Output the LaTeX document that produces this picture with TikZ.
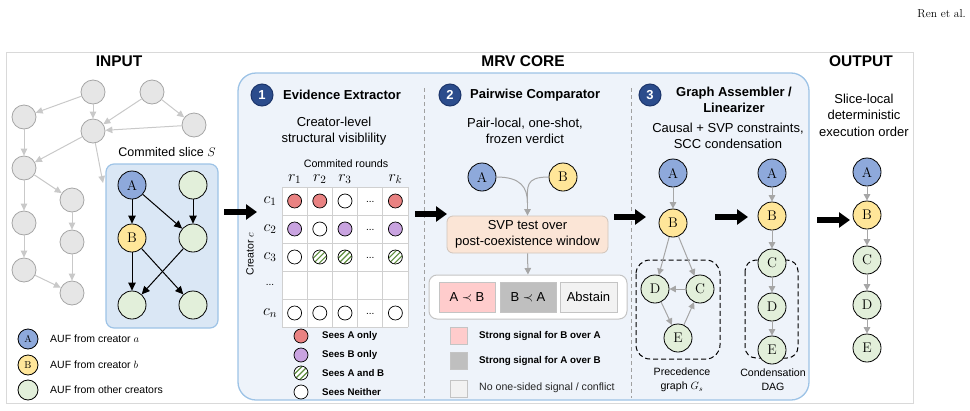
\RequirePackage{fix-cm}
\documentclass[tikz,border=0pt]{standalone}
\usepackage{fontspec}
\setsansfont{Liberation Sans}
\usetikzlibrary{arrows.meta}
\definecolor{mrvfill}{HTML}{EEF3FA}
\definecolor{mrvdraw}{HTML}{9DC3E6}
\definecolor{slicefill}{HTML}{DAE7F5}
\definecolor{nodeA}{HTML}{8EA9DB}
\definecolor{nodeB}{HTML}{FFE699}
\definecolor{nodeG}{HTML}{E2EFDA}
\definecolor{grayN}{HTML}{E6E6E6}
\definecolor{grayNd}{HTML}{A6A6A6}
\definecolor{grayE}{HTML}{C9C9C9}
\definecolor{arrG}{HTML}{A6A6A6}
\definecolor{dotred}{HTML}{E98282}
\definecolor{dotpur}{HTML}{C9A3E0}
\definecolor{hatchg}{HTML}{5E8E3E}
\definecolor{peach}{HTML}{FBE5D6}
\definecolor{peachd}{HTML}{D0C4BA}
\definecolor{pinkb}{HTML}{FFCCCC}
\definecolor{grayb}{HTML}{BFBFBF}
\definecolor{lightb}{HTML}{F2F2F2}
\definecolor{boxd}{HTML}{C4C4C4}
\definecolor{badgeb}{HTML}{2B4C8C}
\definecolor{badged}{HTML}{1C356B}
\definecolor{frameg}{HTML}{D9D9D9}
\definecolor{sepg}{HTML}{A0A0A0}
\definecolor{gridg}{HTML}{D0D0D0}
\newcommand\fsz[2]{\fontsize{#1}{#2}\selectfont}
\begin{document}
\begin{tikzpicture}[x=1pt,y=-1pt,font=\sffamily,
  circ/.style={circle,draw=black,line width=0.8pt,inner sep=0pt,minimum size=28pt,font=\rmfamily\fsz{14}{14}},
  na/.style={circ,fill=nodeA},
  nb/.style={circ,fill=nodeB},
  ng/.style={circ,fill=nodeG},
  lgc/.style={circle,draw=black,line width=0.8pt,inner sep=0pt,minimum size=20pt,font=\rmfamily\fsz{10}{10}},
  gn/.style={circle,draw=grayNd,fill=grayN,line width=0.8pt,inner sep=0pt,minimum size=24pt},
  ge/.style={grayE,line width=1pt,-{Triangle[length=7pt,width=6.5pt]}},
  ca/.style={arrG,line width=1pt,-{Triangle[length=6.5pt,width=6.5pt]}},
  cl/.style={arrG,line width=1pt},
  ba/.style={black,line width=1pt,-{Triangle[length=8pt,width=7.5pt]}},
  bigarr/.style={black,line width=5.5pt,-{Triangle[length=11pt,width=15pt]}},
  badge/.style={circle,fill=badgeb,draw=badged,line width=1pt,inner sep=0pt,minimum size=22pt,text=white,font=\sffamily\bfseries\fsz{13}{13}},
  hdr/.style={font=\sffamily\bfseries\fsz{15.5}{18},inner sep=0pt},
  ttl/.style={font=\sffamily\bfseries\fsz{13}{15.5},inner sep=0pt,align=center},
  body/.style={font=\sffamily\fsz{13}{16.5},inner sep=0pt,align=center},
  small/.style={font=\sffamily\fsz{10.5}{13},inner sep=0pt,align=center},
  lgt/.style={font=\sffamily\bfseries\fsz{9.7}{12},inner sep=0pt,anchor=west},
  dot/.style={circle,draw=black,line width=0.7pt,inner sep=0pt,minimum size=14pt},
  dr/.style={dot,fill=dotred},
  dp/.style={dot,fill=dotpur},
  dw/.style={dot,fill=white},
  dh/.style={dot,fill=white,path picture={\foreach \s in {-5.5,0,5.5}{\draw[hatchg,line width=1.1pt] ([xshift=\s pt]path picture bounding box.center) ++(-9pt,-9pt) -- ++(18pt,18pt);}}},
  ell/.style={font=\sffamily\fsz{10}{10},inner sep=0pt},
  mth/.style={font=\fsz{16}{16},inner sep=0pt},
  sq/.style={draw=boxd,line width=0.6pt,minimum size=17pt,inner sep=0pt},
  obox/.style={draw=boxd,line width=0.6pt,minimum height=30pt,inner sep=0pt,font=\sffamily\fsz{13}{13}},
  dbox/.style={black,line width=1pt,dash pattern=on 5pt off 3pt}
]
\useasboundingbox (0,0) rectangle (970,410);
\node[font=\rmfamily\fsz{11.5}{13},anchor=east,inner sep=0pt] (ren) at (966,14) {Ren et al.};
% frame
\draw[frameg,line width=1pt] (6,52) rectangle (913,403);
\node[hdr] (tin) at (119,61) {INPUT};
\node[hdr] (tmrv) at (523,61) {MRV CORE};
\node[hdr] (tout) at (861,61) {OUTPUT};
% ================= INPUT =================
\draw[mrvdraw,fill=slicefill,line width=1.2pt,rounded corners=8pt] (106,164) rectangle (218,328);
\node[font=\sffamily\fsz{12.5}{14},inner sep=0pt] (slt) at (167,152) {Commited slice $S$};
\node[gn] (n1) at (93,92) {};
\node[gn] (n2) at (152,92) {};
\node[gn] (n3) at (24,117) {};
\node[gn] (n4) at (93,131) {};
\node[gn] (n5) at (194,125) {};
\node[gn] (n6) at (24,168) {};
\node[gn] (n7) at (72,200) {};
\node[gn] (n8) at (24,223) {};
\node[gn] (n9) at (72,242) {};
\node[gn] (n10) at (24,270) {};
\node[gn] (n11) at (72,293) {};
\coordinate (slin) at (103,183);
\draw[ge] (n1) -- (n3);
\draw[ge] (n1) -- (n4);
\draw[ge] (n2) -- (n4);
\draw[ge] (n2) -- (n5);
\draw[ge] (n5) -- (n4);
\draw[ge] (n4) -- (n6);
\draw[ge] (n4) -- (slin);
\draw[ge] (n3) -- (n6);
\draw[ge] (n6) -- (n7);
\draw[ge] (n6) -- (n8);
\draw[ge] (n7) -- (n9);
\draw[ge] (n8) -- (n10);
\draw[ge] (n9) -- (n11);
\draw[ge] (n10) -- (n11);
\node[na] (sa) at (132,185) {A};
\node[ng] (sg1) at (193,185) {};
\node[nb] (sb) at (132,238) {B};
\node[ng] (sg2) at (193,238) {};
\node[ng] (sg3) at (132,305) {};
\node[ng] (sg4) at (193,305) {};
\draw[ba] (sa) -- (sb);
\draw[ba] (sa) -- (sg2);
\draw[ba] (sg1) -- (sg2);
\draw[ba] (sb) -- (sg3);
\draw[ba] (sb) -- (sg4);
\draw[ba] (sg2) -- (sg3);
% legend
\node[lgc,fill=nodeA] (la) at (28,339) {A};
\node[lgc,fill=nodeB] (lb) at (28,365) {B};
\node[lgc,fill=nodeG] (lg) at (28,390) {};
\node[font=\sffamily\fsz{10.5}{12},anchor=west,inner sep=0pt] (lat) at (50,339) {AUF from creator $a$};
\node[font=\sffamily\fsz{10.5}{12},anchor=west,inner sep=0pt] (lbt) at (50,365) {AUF from creator $b$};
\node[font=\sffamily\fsz{10.5}{12},anchor=west,inner sep=0pt] (lgt) at (50,390) {AUF from other creators};
% ================= MRV CORE =================
\draw[mrvdraw,fill=mrvfill,line width=1.3pt,rounded corners=18pt] (238,73) rectangle (809,400);
\draw[sepg,line width=0.8pt,dash pattern=on 4pt off 3pt] (424,88) -- (424,398);
\draw[sepg,line width=0.8pt,dash pattern=on 4pt off 3pt] (631,88) -- (631,398);
\coordinate (a1s) at (224,212); \coordinate (a1e) at (257,212);
\draw[bigarr] (a1s) -- (a1e);
% ---- section 1
\node[badge] (bd1) at (262,95) {1};
\node[ttl,anchor=west] (t1) at (283,95) {Evidence Extractor};
\node[body] (s1) at (334,131) {Creator-level\\structural visiblility};
\node[small,font=\sffamily\fsz{10.7}{13}] (cr) at (346,164) {Commited rounds};
\fill[white] (282,187) rectangle (408,327);
\foreach \i in {0,...,5} \draw[gridg,line width=0.8pt] ({282+25.2*\i},187) -- ({282+25.2*\i},327);
\foreach \j in {0,...,5} \draw[gridg,line width=0.8pt] (282,{187+28*\j}) -- (408,{187+28*\j});
\node[mth] (rl1) at (294.6,179) {$r_1$};
\node[mth] (rl2) at (319.8,179) {$r_2$};
\node[mth] (rl3) at (345,179) {$r_3$};
\node[mth] (rlk) at (395.4,179) {$r_k$};
\node[mth] (cl1) at (270,201) {$c_1$};
\node[mth] (cl2) at (270,229) {$c_2$};
\node[mth] (cl3) at (270,257) {$c_3$};
\node[ell] (cl4) at (270,285) {...};
\node[mth] (cln) at (270,313) {$c_n$};
\node[font=\sffamily\fsz{10.5}{12},rotate=90,inner sep=0pt] (crt) at (250,254) {Creator $c$};
% row 1
\node[dr] (g11) at (294.6,201) {};
\node[dr] (g12) at (319.8,201) {};
\node[dw] (g13) at (345,201) {};
\node[ell] (g14) at (370.2,202) {...};
\node[dr] (g15) at (395.4,201) {};
% row 2
\node[dp] (g21) at (294.6,229) {};
\node[dw] (g22) at (319.8,229) {};
\node[dp] (g23) at (345,229) {};
\node[ell] (g24) at (370.2,230) {...};
\node[dp] (g25) at (395.4,229) {};
% row 3
\node[dw] (g31) at (294.6,257) {};
\node[dh] (g32) at (319.8,257) {};
\node[dh] (g33) at (345,257) {};
\node[ell] (g34) at (370.2,258) {...};
\node[dh] (g35) at (395.4,257) {};
% row n
\node[dw] (g51) at (294.6,313) {};
\node[dw] (g52) at (319.8,313) {};
\node[dw] (g53) at (345,313) {};
\node[ell] (g54) at (370.2,314) {...};
\node[dw] (g55) at (395.4,313) {};
% legend
\node[dr] (ld1) at (301,336) {};
\node[dp] (ld2) at (301,355) {};
\node[dh] (ld3) at (301,373) {};
\node[dw] (ld4) at (301,392) {};
\node[lgt] (ldt1) at (322,336) {Sees A only};
\node[lgt] (ldt2) at (322,355) {Sees B only};
\node[lgt] (ldt3) at (322,373) {Sees A and B};
\node[lgt] (ldt4) at (322,392) {Sees Neither};
% ---- section 2
\coordinate (a2s) at (415,214); \coordinate (a2e) at (447,214);
\draw[bigarr] (a2s) -- (a2e);
\node[badge] (bd2) at (450,95) {2};
\node[ttl,anchor=west] (t2) at (470,95) {Pairwise Comparator};
\node[body] (s2) at (525,131) {Pair-local, one-shot,\\frozen verdict};
\node[na] (pa) at (482,177) {A};
\node[nb] (pb) at (563,177) {B};
\node[draw=peachd,fill=peach,line width=0.8pt,rounded corners=6pt,minimum width=161pt,minimum height=37pt,inner sep=0pt,align=center,font=\sffamily\fsz{13}{16}] (svp) at (527.5,234.5) {SVP test over\\post-coexistence window};
\coordinate (mrg) at (527.5,203);
\draw[cl] (pa.east) .. controls +(24,0) and +(0,-16) .. (mrg);
\draw[cl] (pb.west) .. controls +(-24,0) and +(0,-16) .. (mrg);
\draw[ca] (mrg) -- (svp.north);
\node[draw=boxd,fill=white,line width=1pt,rounded corners=8pt,minimum width=198pt,minimum height=44pt,inner sep=0pt] (outc) at (528,297) {};
\draw[ca] (svp.south) -- (outc.north);
\node[obox,fill=pinkb,minimum width=56pt] (o1) at (467,297) {A $\prec$ B};
\node[obox,fill=grayb,minimum width=56pt] (o2) at (528,297) {B $\prec$ A};
\node[obox,fill=lightb,minimum width=57pt] (o3) at (588.5,297) {Abstain};
\node[sq,fill=pinkb] (q1) at (458.5,335.5) {};
\node[sq,fill=grayb] (q2) at (458.5,360.5) {};
\node[sq,fill=lightb] (q3) at (458.5,388.5) {};
\node[lgt,font=\sffamily\bfseries\fsz{9.8}{12}] (qt1) at (479,336) {Strong signal for B over A};
\node[lgt,font=\sffamily\bfseries\fsz{9.8}{12}] (qt2) at (479,361) {Strong signal for A over B};
\node[lgt,font=\sffamily\fsz{10.6}{12},text=black!85] (qt3) at (479,388) {No one-sided signal / conflict};
% ---- section 3
\coordinate (a3s) at (614,217); \coordinate (a3e) at (646,217);
\draw[bigarr] (a3s) -- (a3e);
\node[badge] (bd3) at (650,95) {3};
\node[ttl] (t3) at (734,100) {Graph Assembler /\\Linearizer};
\node[body] (s3) at (728,136) {Causal + SVP constraints,\\SCC condensation};
\draw[dbox,rounded corners=14pt] (636,260) rectangle (720,359);
\draw[dbox,rounded corners=11pt] (745,260) rectangle (798,358);
\node[na] (ga) at (673,173) {A};
\node[nb] (gb) at (673,223) {B};
\node[ng] (gd) at (655,289) {D};
\node[ng] (gc) at (700,289) {C};
\node[ng] (gee) at (678,338) {E};
\draw[ca] (ga) -- (gb);
\draw[ca] (gb) -- (gd);
\draw[ca] (gb) -- (gc);
\draw[ca] (gc) -- (gd);
\draw[ca] (gd) -- (gee);
\draw[ca] (gee) -- (gc);
\coordinate (a4s) at (715,217); \coordinate (a4e) at (748,217);
\draw[bigarr] (a4s) -- (a4e);
\node[na] (ha) at (772,173) {A};
\node[nb] (hb) at (772,216) {B};
\node[ng] (hc) at (772,263) {C};
\node[ng] (hd) at (772,307) {D};
\node[ng] (he) at (772,350) {E};
\draw[ca] (ha) -- (hb);
\draw[ca] (hb) -- (hc);
\draw[ca] (hc) -- (hd);
\draw[ca] (hd) -- (he);
\node[small,font=\sffamily\fsz{10.6}{14}] (pgl) at (682,380) {Precedence\\graph $G_s$};
\node[small,font=\sffamily\fsz{10.6}{14}] (cdl) at (773,380) {Condensation\\DAG};
% ================= OUTPUT =================
\node[body] (s4) at (864,115) {Slice-local\\deterministic\\execution order};
\coordinate (a5s) at (817,220); \coordinate (a5e) at (850,220);
\draw[bigarr] (a5s) -- (a5e);
\node[na] (oa) at (867,172) {A};
\node[nb] (ob) at (867,215) {B};
\node[ng] (oc) at (867,260) {C};
\node[ng] (od) at (867,305) {D};
\node[ng] (oe) at (867,348) {E};
\draw[ca] (oa) -- (ob);
\draw[ca] (ob) -- (oc);
\draw[ca] (oc) -- (od);
\draw[ca] (od) -- (oe);
\end{tikzpicture}
\end{document}
